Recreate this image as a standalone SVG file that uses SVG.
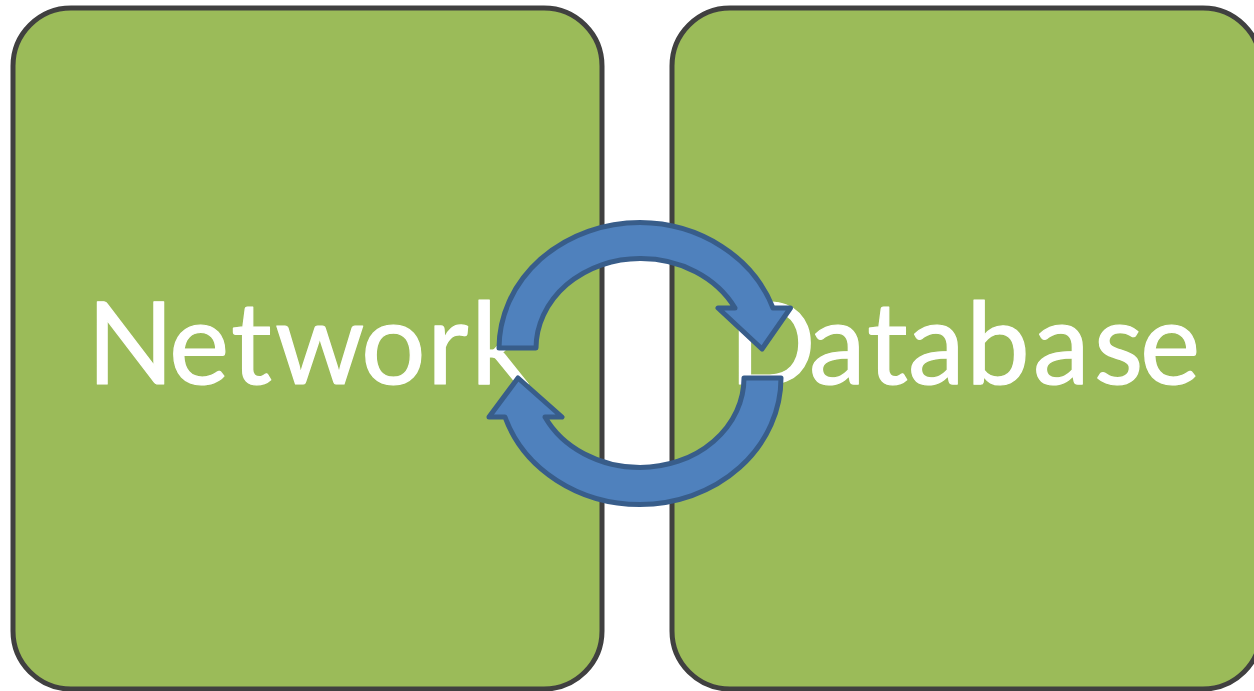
<svg xmlns="http://www.w3.org/2000/svg" width="1254" height="691" viewBox="0 0 1254 691">
<style>
.box{fill:#9bbb59;stroke:#404040;stroke-width:5}
.lbl{font-family:"Lato","Open Sans","DejaVu Sans",sans-serif;font-size:114px;fill:#fff;stroke:#fff;stroke-width:1.2;stroke-linejoin:round}
.arr{fill:#4f81bd;stroke:#385d8a;stroke-width:5;stroke-linejoin:round}
</style>
<g id="network"><rect class="box" x="13" y="8" width="589" height="681" rx="58"/><text class="lbl" x="87 169 231 275 361 427 471" y="384">Network</text></g>
<g id="database"><rect class="box" x="672" y="8" width="589" height="681" rx="58"/><text class="lbl" x="729 809 867 908 966 1033 1094 1140" y="384">Database</text></g>
<g id="connectors">
<path class="arr" d="M499 348A141 126 0 0 1 640 222.500A142 128 0 0 1 773 308L790.500 308L762 349L718 308L735 308A106 91.500 0 0 0 640 258.500A104 90 0 0 0 536 348Z"/>
<path class="arr" d="M781 378A141 126.500 0 0 1 640 504.500A142 126.500 0 0 1 505 417L489 417L518 378L562 417L545 417A106 89.500 0 0 0 640 467.500A104 89.500 0 0 0 744 378Z"/>
</g>
</svg>
